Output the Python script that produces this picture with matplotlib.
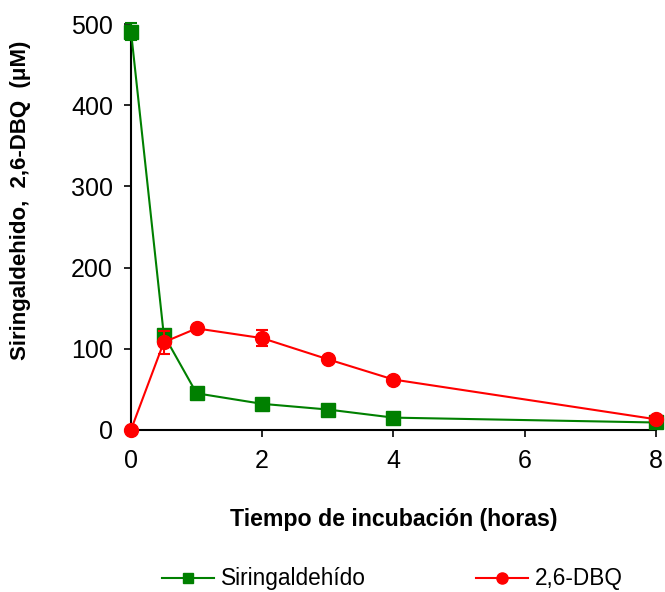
import matplotlib
matplotlib.use("Agg")
import matplotlib.pyplot as plt
from matplotlib.lines import Line2D

plt.rcParams['font.family'] = ['Liberation Sans', 'DejaVu Sans']

time_h = [0, 0.5, 1, 2, 3, 4, 8]
siring = [491, 117, 45, 32, 25, 15, 9]
siring_err = [11, 3, 2, 2, 2, 1, 1]
dbq = [0, 108, 125, 113, 87, 62, 13]
dbq_err = [0, 14, 3, 10, 3, 3, 2]

xticks = [0, 2, 4, 6, 8]
yticks = [0, 100, 200, 300, 400, 500]

fig = plt.figure(figsize=(6.65, 5.92), dpi=100)
ax = fig.add_axes([0.197, 0.274, 0.789, 0.685])

green = '#008000'
red = '#ff0000'

ax.errorbar(time_h, siring, yerr=siring_err, color=green, marker='s', markersize=10,
            linewidth=1.5, capsize=4, elinewidth=1.5, capthick=1.5, clip_on=False, zorder=3)
ax.errorbar(time_h, dbq, yerr=dbq_err, color=red, marker='o', markersize=10,
            linewidth=1.5, capsize=4, elinewidth=1.5, capthick=1.5, clip_on=False, zorder=4)

ax.set_xlim(0, 8)
ax.set_ylim(0, 500)
ax.set_xticks(xticks)
ax.set_yticks(yticks)
ax.tick_params(labelsize=18, direction='out', length=5, width=1.2)
ax.tick_params(axis='y', pad=8)
ax.tick_params(axis='x', pad=9)
for s in ['top', 'right']:
    ax.spines[s].set_visible(False)
for s in ['left', 'bottom']:
    ax.spines[s].set_linewidth(1.5)

ax.set_xlabel('Tiempo de incubación (horas)', fontsize=16.7, fontweight='bold', labelpad=25)
ax.set_ylabel('Siringaldehido,  2,6-DBQ  (μM)', fontsize=16, fontweight='bold')
ax.yaxis.set_label_coords(-0.19, 0.567)

handles = [
    Line2D([], [], color=green, marker='s', markersize=7, linewidth=1.5),
    Line2D([], [], color=red, marker='o', markersize=8, linewidth=1.5),
]
fig.legend(handles, ['Siringaldehído', '2,6-DBQ'], ncol=2, loc='center',
           bbox_to_anchor=(0.59, 0.022), frameon=False, fontsize=16.3,
           handlelength=2.3, handletextpad=0.3, columnspacing=4.9)

fig.savefig('out.png', dpi=100)
